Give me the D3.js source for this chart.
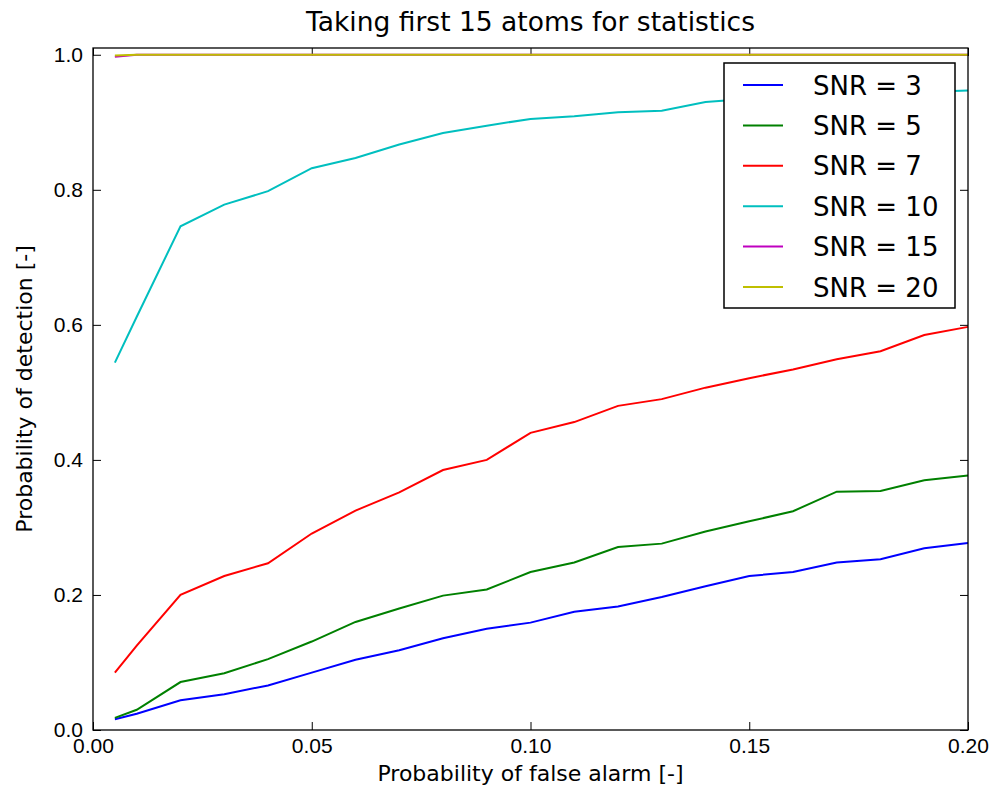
<!doctype html>
<html lang="en">
  <head>
    <meta charset="UTF-8" />
    <title>Taking first 15 atoms for statistics</title>
    <script src="https://d3js.org/d3.v7.min.js"></script>
    <style>
      body {
        margin: 0;
        background: #fff;
      }
      svg {
        font-family: 'DejaVu Sans', sans-serif;
      }
      .axis path {
        display: none;
      }
      .axis line {
        stroke: #000;
      }
      .axis text {
        fill: #000;
        font-size: 21px;
      }
    </style>
  </head>
  <body>
    <div id="chart"></div>
    <script>
      // Data
      const pfa = [
        0.005, 0.01, 0.02, 0.03, 0.04, 0.05, 0.06, 0.07, 0.08, 0.09, 0.1,
        0.11, 0.12, 0.13, 0.14, 0.15, 0.16, 0.17, 0.18, 0.19, 0.2,
      ];
      const snr3 = [
        0.016, 0.024, 0.044, 0.053, 0.066, 0.085, 0.104, 0.118, 0.136,
        0.15, 0.159, 0.175, 0.183, 0.197, 0.213, 0.228, 0.234, 0.248,
        0.253, 0.269, 0.277,
      ];
      const snr5 = [
        0.018, 0.03, 0.071, 0.084, 0.105, 0.131, 0.16, 0.18, 0.199, 0.208,
        0.234, 0.248, 0.271, 0.276, 0.294, 0.309, 0.324, 0.353, 0.354,
        0.37, 0.377,
      ];
      const snr7 = [
        0.085, 0.125, 0.2, 0.228, 0.247, 0.291, 0.325, 0.352, 0.385, 0.4,
        0.44, 0.456, 0.48, 0.49, 0.507, 0.521, 0.534, 0.549, 0.561, 0.585,
        0.597,
      ];
      const snr10 = [
        0.544, 0.612, 0.746, 0.778, 0.798, 0.832, 0.847, 0.867, 0.884,
        0.895, 0.905, 0.909, 0.915, 0.917, 0.93, 0.935, 0.938, 0.94, 0.943,
        0.945, 0.947,
      ];
      const snr15 = [
        0.997, 1, 1, 1, 1, 1, 1, 1, 1, 1, 1, 1, 1, 1, 1, 1, 1, 1, 1, 1, 1,
      ];
      const snr20 = [
        0.999, 1, 1, 1, 1, 1, 1, 1, 1, 1, 1, 1, 1, 1, 1, 1, 1, 1, 1, 1, 1,
      ];
      const seriesNames = [
        'SNR = 3',
        'SNR = 5',
        'SNR = 7',
        'SNR = 10',
        'SNR = 15',
        'SNR = 20',
      ];
      const seriesValues = [snr3, snr5, snr7, snr10, snr15, snr20];
      const colors = [
        '#0000ff',
        '#008000',
        '#ff0000',
        '#00bfbf',
        '#bf00bf',
        '#bfbf00',
      ];
      const xTicks = [0, 0.05, 0.1, 0.15, 0.2];
      const yTicks = [0, 0.2, 0.4, 0.6, 0.8, 1.0];

      const totalWidth = 994;
      const totalHeight = 786;
      const margin = { top: 48, right: 26, bottom: 56, left: 93 };
      const width = totalWidth - margin.left - margin.right;
      const height = totalHeight - margin.top - margin.bottom;

      const svg = d3
        .select('#chart')
        .append('svg')
        .attr('width', totalWidth)
        .attr('height', totalHeight);

      const g = svg
        .append('g')
        .attr('transform', 'translate(' + margin.left + ',' + margin.top + ')');

      const x = d3.scaleLinear().domain([0, 0.2]).range([0, width]);
      const y = d3.scaleLinear().domain([0, 1.01]).range([height, 0]);

      const fmt2 = d3.format('.2f');
      const fmt1 = d3.format('.1f');

      // Axes, ticks pointing inward on all four sides
      g.append('g')
        .attr('class', 'axis')
        .attr('transform', 'translate(0,' + height + ')')
        .call(
          d3.axisBottom(x).tickValues(xTicks).tickFormat(fmt2).tickSizeInner(-8).tickPadding(8),
        );
      g.append('g')
        .attr('class', 'axis')
        .call(
          d3.axisTop(x).tickValues(xTicks).tickFormat('').tickSizeInner(-8),
        );
      g.append('g')
        .attr('class', 'axis')
        .call(
          d3.axisLeft(y).tickValues(yTicks).tickFormat(fmt1).tickSizeInner(-8).tickPadding(10),
        );
      g.append('g')
        .attr('class', 'axis')
        .attr('transform', 'translate(' + width + ',0)')
        .call(
          d3.axisRight(y).tickValues(yTicks).tickFormat('').tickSizeInner(-8),
        );

      // Lines
      const line = d3
        .line()
        .x((d, i) => x(pfa[i]))
        .y((d) => y(d));

      seriesValues.forEach((vals, i) => {
        g.append('path')
          .datum(vals)
          .attr('fill', 'none')
          .attr('stroke', colors[i])
          .attr('stroke-width', 2)
          .attr('d', line);
      });

      // Frame
      g.append('rect')
        .attr('width', width)
        .attr('height', height)
        .attr('fill', 'none')
        .attr('stroke', '#000')
        .attr('stroke-width', 1.3);

      // Title and axis labels
      svg
        .append('text')
        .attr('x', margin.left + width / 2)
        .attr('y', 31)
        .attr('text-anchor', 'middle')
        .style('font-size', '26.5px')
        .text('Taking first 15 atoms for statistics');

      svg
        .append('text')
        .attr('x', margin.left + width / 2)
        .attr('y', 781)
        .attr('text-anchor', 'middle')
        .style('font-size', '22px')
        .text('Probability of false alarm [-]');

      svg
        .append('text')
        .attr('transform', 'translate(32,' + (margin.top + height / 2) + ') rotate(-90)')
        .attr('text-anchor', 'middle')
        .style('font-size', '22px')
        .text('Probability of detection [-]');

      // Legend
      const legend = svg.append('g').attr('transform', 'translate(724,63)');
      legend
        .append('rect')
        .attr('width', 231)
        .attr('height', 245)
        .attr('fill', '#fff')
        .attr('stroke', '#000')
        .attr('stroke-width', 1.5);
      seriesNames.forEach((name, i) => {
        const rowY = 22 + i * 40.4;
        legend
          .append('line')
          .attr('x1', 19)
          .attr('x2', 59)
          .attr('y1', rowY)
          .attr('y2', rowY)
          .attr('stroke', colors[i])
          .attr('stroke-width', 2);
        legend
          .append('text')
          .attr('x', 89)
          .attr('y', rowY + 9.5)
          .style('font-size', '26px')
          .text(name);
      });
    </script>
  </body>
</html>
